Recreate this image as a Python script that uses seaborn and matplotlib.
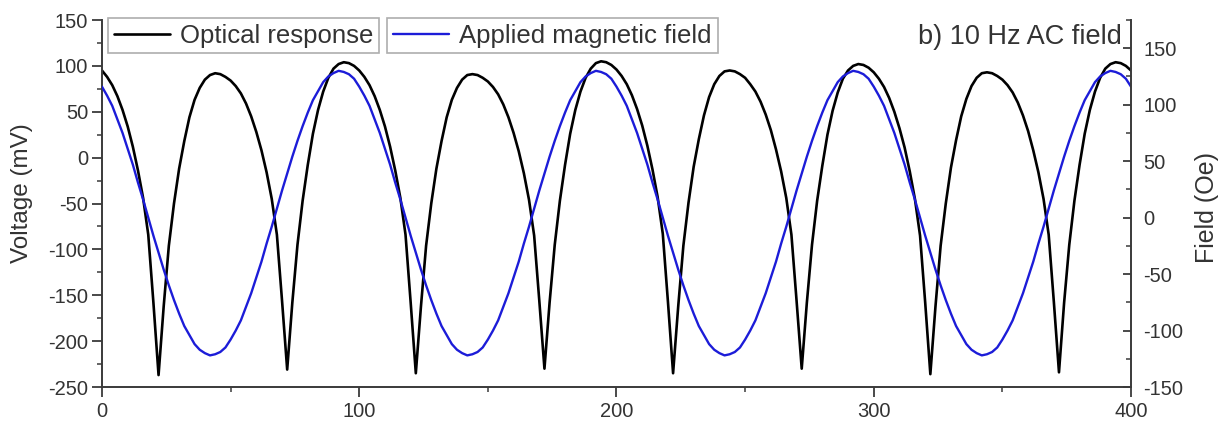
import matplotlib
matplotlib.use("Agg")
import matplotlib.pyplot as plt
import seaborn as sns
import pandas as pd
from matplotlib.ticker import MultipleLocator
from matplotlib.lines import Line2D

# ---- data (time in ms) ----
time_ms = list(range(0, 401, 2))

optical_mv = [
    95, 88, 79, 67, 52, 34, 12, -14, -44, -84, -158, -237,
    -162, -96, -50, -12, 18, 44, 63, 76, 85, 90, 92, 91, 88, 84, 78, 70, 59, 45, 28, 8, -16, -45, -84, -156, -231,
    -158, -95, -47, -8, 26, 52, 72, 87, 97, 102, 104, 103, 100, 95, 88, 79, 67, 52, 34, 12, -14, -44, -84, -158, -235,
    -162, -96, -50, -12, 18, 44, 63, 76, 85, 90, 91, 90, 87, 83, 77, 69, 58, 44, 27, 7, -17, -46, -85, -156, -230,
    -158, -95, -47, -8, 26, 52, 72, 87, 97, 103, 105, 104, 101, 96, 89, 80, 68, 53, 35, 13, -13, -43, -83, -157, -235,
    -162, -96, -49, -10, 20, 46, 66, 80, 89, 94, 95, 94, 91, 87, 80, 72, 61, 47, 30, 9, -15, -44, -84, -156, -230,
    -158, -95, -47, -9, 25, 51, 71, 86, 95, 100, 102, 101, 98, 93, 86, 77, 65, 50, 32, 11, -15, -45, -85, -158, -236,
    -162, -96, -50, -11, 19, 45, 64, 78, 87, 92, 93, 92, 89, 85, 79, 71, 60, 46, 29, 8, -16, -45, -84, -157, -234,
    -158, -95, -47, -8, 26, 52, 72, 87, 97, 102, 104, 103, 100, 95,
]

field_oe = [
    116, 108, 99, 87, 75, 61, 47, 31, 16, 0,
    -16, -31, -46, -60, -73, -85, -96, -104, -112, -117,
    -120, -122, -121, -119, -115, -108, -100, -91, -79, -67,
    -53, -39, -23, -8, 8, 24, 39, 54, 68, 81,
    93, 104, 112, 120, 125, 128, 130, 129, 127, 123,
    116, 108, 99, 87, 75, 61, 47, 31, 16, 0,
    -16, -31, -46, -60, -73, -85, -96, -104, -112, -117,
    -120, -122, -121, -119, -115, -108, -100, -91, -79, -67,
    -53, -39, -23, -8, 8, 24, 39, 54, 68, 81,
    93, 104, 112, 120, 125, 128, 130, 129, 127, 123,
    116, 108, 99, 87, 75, 61, 47, 31, 16, 0,
    -16, -31, -46, -60, -73, -85, -96, -104, -112, -117,
    -120, -122, -121, -119, -115, -108, -100, -91, -79, -67,
    -53, -39, -23, -8, 8, 24, 39, 54, 68, 81,
    93, 104, 112, 120, 125, 128, 130, 129, 127, 123,
    116, 108, 99, 87, 75, 61, 47, 31, 16, 0,
    -16, -31, -46, -60, -73, -85, -96, -104, -112, -117,
    -120, -122, -121, -119, -115, -108, -100, -91, -79, -67,
    -53, -39, -23, -8, 8, 24, 39, 54, 68, 81,
    93, 104, 112, 120, 125, 128, 130, 129, 127, 123,
    116,
]

series_labels = ["Optical response", "Applied magnetic field"]
panel_title = "b) 10 Hz AC field"
x_ticks = [0, 100, 200, 300, 400]

df = pd.DataFrame({"t": time_ms, "optical": optical_mv, "field": field_oe})

# ---- style ----
sns.set_theme(style="ticks")
plt.rcParams["font.family"] = ["Liberation Sans", "DejaVu Sans"]
plt.rcParams["axes.unicode_minus"] = False
text_c = "#333333"
spine_c = "#3a3a3a"

fig = plt.figure(figsize=(12.21, 4.23), dpi=100)
ax = fig.add_axes([0.0835, 0.0851, 0.8428, 0.8676])
ax2 = ax.twinx()

sns.lineplot(data=df, x="t", y="optical", ax=ax, color="black", lw=1.9, legend=False)
sns.lineplot(data=df, x="t", y="field", ax=ax2, color="#1c1cd8", lw=1.7, legend=False)

ax.set_xlim(0, 400)
ax.set_ylim(-250, 150)
ax2.set_ylim(-150, 175)

ax.set_xticks(x_ticks)
ax.xaxis.set_minor_locator(MultipleLocator(50))
ax.yaxis.set_major_locator(MultipleLocator(50))
ax.yaxis.set_minor_locator(MultipleLocator(25))
ax2.set_yticks([-150, -100, -50, 0, 50, 100, 150])
ax2.yaxis.set_minor_locator(MultipleLocator(25))

for a in (ax, ax2):
    a.spines["top"].set_visible(False)
    for s in a.spines.values():
        s.set_color(spine_c)
        s.set_linewidth(1.4)
ax.spines["right"].set_visible(False)
ax2.spines["left"].set_visible(False)
ax2.spines["bottom"].set_visible(False)

ax.tick_params(axis="both", which="major", direction="out", length=7, width=1.3,
               color=spine_c, labelcolor=text_c, labelsize=14.5, pad=3)
ax.tick_params(axis="both", which="minor", direction="out", length=3.5, width=1.1, color=spine_c)
ax.tick_params(axis="x", which="major", pad=4)
ax2.tick_params(axis="y", which="major", direction="in", length=6, width=1.3,
                color=spine_c, labelcolor=text_c, labelsize=14.5, pad=9)
ax2.tick_params(axis="y", which="minor", direction="in", length=3.5, width=1.1, color=spine_c)

ax.set_xlabel("")
ax.set_ylabel("Voltage (mV)", fontsize=17.5, color=text_c)
ax.yaxis.set_label_coords(-0.067, 0.529)
ax2.set_ylabel("Field (Oe)", fontsize=18, color=text_c)
ax2.yaxis.set_label_coords(1.062, 0.49)

# ---- legends (two separate boxes) ----
h1 = Line2D([], [], color="black", lw=1.9)
h2 = Line2D([], [], color="#1c1cd8", lw=1.7)
common = dict(loc="upper left", frameon=True, fancybox=False, fontsize=18.5,
              handlelength=2.2, handletextpad=0.4, borderpad=0.22, borderaxespad=0)
leg1 = ax2.legend([h1], [series_labels[0]], bbox_to_anchor=(0.0058, 1.005), **common)
leg1.get_frame().set_edgecolor("#9a9a9a")
leg1.get_frame().set_linewidth(1.2)
for t in leg1.get_texts():
    t.set_color(text_c)
ax2.add_artist(leg1)
leg2 = ax2.legend([h2], [series_labels[1]], bbox_to_anchor=(0.277, 1.005), **common)
leg2.get_frame().set_edgecolor("#9a9a9a")
leg2.get_frame().set_linewidth(1.2)
for t in leg2.get_texts():
    t.set_color(text_c)

ax2.text(0.991, 0.955, panel_title, transform=ax.transAxes, ha="right", va="center",
         fontsize=19.5, color=text_c)

fig.savefig("out.png", dpi=100)
